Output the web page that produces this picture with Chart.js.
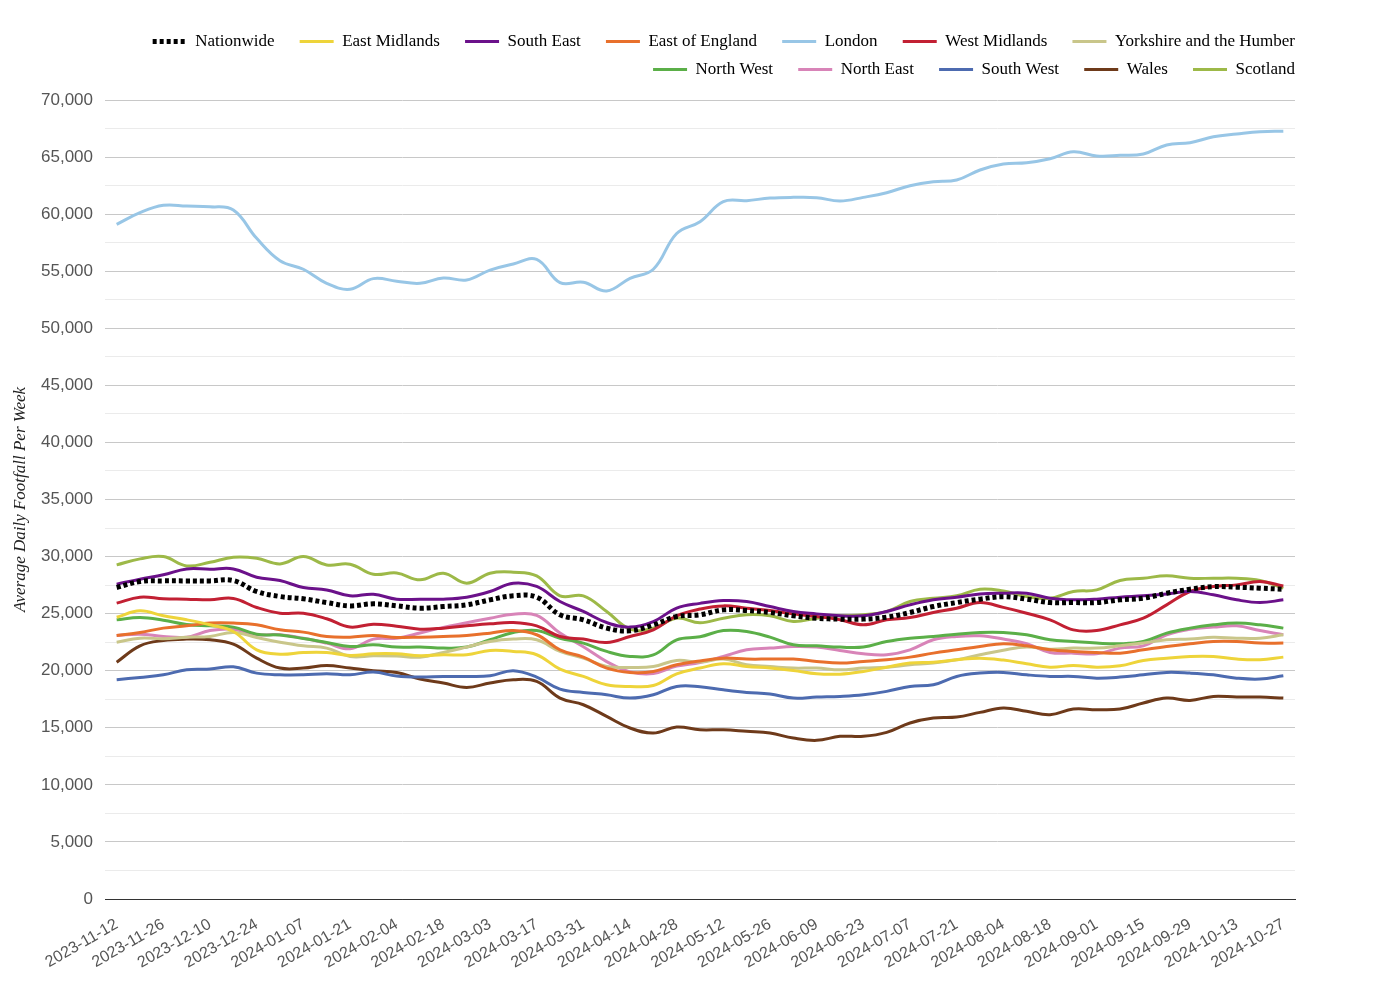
<!DOCTYPE html>
<html><head><meta charset="utf-8">
<script src="https://cdn.jsdelivr.net/npm/chart.js@4.4.1/dist/chart.umd.min.js"></script>
<style>html,body{margin:0;padding:0;background:#fff;}#wrap{width:1400px;height:1000px;}</style>
</head><body><div id="wrap"><canvas id="c" width="1400" height="1000"></canvas></div>
<script>
const weeks = ["2023-11-12","2023-11-19","2023-11-26","2023-12-03","2023-12-10","2023-12-17","2023-12-24","2023-12-31",
"2024-01-07","2024-01-14","2024-01-21","2024-01-28","2024-02-04","2024-02-11","2024-02-18","2024-02-25",
"2024-03-03","2024-03-10","2024-03-17","2024-03-24","2024-03-31","2024-04-07","2024-04-14","2024-04-21",
"2024-04-28","2024-05-05","2024-05-12","2024-05-19","2024-05-26","2024-06-02","2024-06-09","2024-06-16",
"2024-06-23","2024-06-30","2024-07-07","2024-07-14","2024-07-21","2024-07-28","2024-08-04","2024-08-11",
"2024-08-18","2024-08-25","2024-09-01","2024-09-08","2024-09-15","2024-09-22","2024-09-29","2024-10-06",
"2024-10-13","2024-10-20","2024-10-27"];

const nationwide = [27290,27810,27870,27870,27870,27900,26940,26500,26300,25970,
25680,25860,25680,25480,25620,25770,26210,26560,26440,24900,
24460,23730,23500,24020,24750,24900,25330,25270,25100,24810,
24600,24520,24520,24690,25100,25620,25970,26270,26480,26270,
25970,25970,25970,26210,26350,26790,27140,27370,27320,27230,27140];
const eastMidlands = [24690,25250,24810,24460,24020,23440,21830,21450,21600,21600,
21340,21480,21480,21310,21400,21400,21770,21690,21400,20140,
19500,18770,18620,18710,19730,20230,20610,20370,20230,20020,
19730,19700,19940,20310,20670,20750,20960,21100,20930,20610,
20310,20460,20310,20430,20900,21100,21250,21250,21020,20960,21190];
const southEast = [27580,28020,28400,28920,28890,28920,28190,27900,27290,27080,
26560,26700,26270,26270,26270,26440,26940,27670,27380,26060,
25190,24220,23820,24310,25480,25900,26150,26060,25620,25190,
24980,24810,24810,25190,25770,26210,26440,26730,26790,26790,
26350,26210,26270,26440,26560,26730,26940,26650,26210,25970,26210];
const eastOfEngland = [23090,23350,23730,23930,24170,24170,24020,23580,23380,23000,
22940,23090,22920,22940,23000,23090,23290,23520,23150,21830,
21190,20230,19850,19940,20520,20850,21100,21020,21020,21020,
20810,20670,20810,20960,21190,21540,21830,22120,22360,22180,
21830,21690,21600,21540,21830,22120,22360,22560,22560,22420,22420];
const london = [59110,60130,60770,60710,60650,60360,57880,55920,55170,53940,
53420,54350,54120,53940,54410,54230,55100,55630,56040,54000,
54030,53270,54380,55170,58310,59340,61090,61180,61410,61470,
61440,61150,61470,61880,62490,62840,62990,63870,64390,64510,
64860,65470,65100,65150,65270,66060,66260,66780,67020,67220,67260];
const westMidlands = [25920,26440,26300,26270,26210,26330,25540,25040,25040,24550,
23820,24080,23900,23640,23730,23930,24110,24220,23930,23000,
22770,22470,23000,23580,24810,25400,25680,25480,25270,24980,
24750,24460,24020,24460,24660,25100,25480,25970,25550,25040,
24460,23580,23520,24020,24600,25770,26940,27370,27520,27810,27430];
const yorkshire = [22500,22850,22800,22940,23000,23350,22910,22500,22180,21980,
21250,21310,21280,21190,21600,22070,22560,22770,22710,21690,
21100,20370,20290,20370,20900,20760,21020,20520,20370,20230,
20230,20080,20230,20310,20520,20670,20960,21400,21800,22070,
21890,21980,21980,22180,22420,22710,22770,22940,22850,22850,23150];
const northWest = [24460,24660,24430,24050,23930,23820,23200,23120,22820,22470,
22120,22270,22070,22070,21980,22070,22710,23350,23520,22850,
22420,21690,21250,21390,22710,22970,23520,23440,22940,22270,
22180,22070,22070,22560,22850,23000,23200,23350,23350,23150,
22710,22560,22420,22360,22560,23290,23730,24020,24170,24020,23730];
const northEast = [23090,23200,23000,22940,23520,23640,23150,23150,22850,22420,
21920,22770,22850,23300,23800,24200,24600,24950,24850,23300,
22100,20800,19900,19750,20400,20720,21250,21830,21980,22120,
22070,21770,21480,21400,21830,22710,23000,23060,22770,22360,
21600,21540,21480,21980,22180,23150,23640,23820,23930,23520,23150];
const southWest = [19210,19410,19640,20080,20140,20340,19790,19640,19640,19730,
19640,19880,19530,19440,19500,19500,19560,20000,19440,18390,
18100,17890,17600,17890,18620,18600,18330,18100,17950,17600,
17690,17750,17890,18190,18620,18770,19500,19790,19850,19640,
19500,19500,19350,19440,19640,19850,19790,19640,19350,19270,19560];
const wales = [20750,22180,22650,22770,22710,22330,21100,20230,20230,20460,
20230,20000,19850,19270,18920,18540,18920,19210,19060,17600,
17020,16000,14980,14540,15070,14830,14830,14690,14540,14100,
13900,14250,14250,14600,15420,15850,15940,16350,16730,16440,
16140,16640,16580,16640,17170,17600,17400,17750,17690,17690,17600];
const scotland = [29270,29800,30000,29180,29500,29940,29850,29360,30000,29270,
29330,28450,28560,27960,28540,27670,28540,28630,28310,26560,
26560,25190,23640,23730,24600,24200,24600,24900,24810,24310,
24600,24810,24900,25190,26060,26350,26560,27140,26980,26500,
26350,26940,27080,27900,28100,28310,28100,28100,28100,27900,27230];

const seriesNames = ["Nationwide","East Midlands","South East","East of England","London","West Midlands",
"Yorkshire and the Humber","North West","North East","South West","Wales","Scotland"];
const seriesValues = [nationwide,eastMidlands,southEast,eastOfEngland,london,westMidlands,
yorkshire,northWest,northEast,southWest,wales,scotland];
const seriesColors = ["#000000","#EED43A","#6B118A","#E8702C","#98C6E6","#C22033",
"#C9C68A","#5BAF48","#D884B8","#4D6BB0","#6E3A1A","#9DB948"];
const rowEnds = [6, 11];

const datasets = seriesNames.map((name, i) => ({
  label: name,
  data: seriesValues[i],
  borderColor: seriesColors[i],
  backgroundColor: seriesColors[i],
  borderWidth: i === 0 ? 5 : 3,
  borderDash: i === 0 ? [4, 3] : [],
  borderCapStyle: 'butt',
  borderJoinStyle: 'round',
  pointRadius: 0,
  pointHoverRadius: 0,
  tension: 0.4,
  fill: false
}));

const legendFit = {
  id: 'legendFit',
  afterInit(chart) {
    const lg = chart.legend;
    if (!lg || lg._patched) return;
    const orig = lg.fit;
    lg.fit = function () {
      const full = this.maxWidth;
      this.maxWidth = Math.min(full, 1200);
      orig.call(this);
      this.maxWidth = full;
      this.width = full;
      this.height += 12;
    };
    lg._patched = true;
  }
};

new Chart(document.getElementById('c'), {
  type: 'line',
  data: { labels: weeks, datasets },
  plugins: [legendFit],
  options: {
    responsive: false,
    animation: false,
    devicePixelRatio: 1,
    layout: { padding: { top: 22, right: 94, left: 0, bottom: 0 } },
    plugins: {
      tooltip: { enabled: false },
      legend: {
        position: 'top',
        align: 'end',
        labels: {
          usePointStyle: true,
          pointStyleWidth: 34,
          padding: 11,
          color: '#000',
          font: { family: "'Liberation Serif', 'Times New Roman', serif", size: 17 },
          generateLabels(chart) {
            return chart.data.datasets.map((ds, i) => ({
              text: rowEnds.includes(i) ? ds.label : ds.label + '\u2002\u2004',
              fillStyle: ds.borderColor,
              strokeStyle: ds.borderColor,
              lineWidth: ds.borderWidth,
              lineDash: ds.borderDash,
              lineCap: 'butt',
              pointStyle: 'line',
              fontColor: '#000',
              hidden: !chart.isDatasetVisible(i),
              datasetIndex: i
            }));
          }
        }
      }
    },
    scales: {
      x: {
        offset: true,
        grid: { display: true, drawOnChartArea: false, drawTicks: false },
        border: { display: true, color: '#333', width: 1 },
        ticks: {
          autoSkip: false,
          maxRotation: 30,
          minRotation: 30,
          padding: 16,
          color: '#555',
          font: { family: "'Liberation Sans', Arial, sans-serif", size: 16 },
          callback: (v, idx) => (idx % 2 === 0 ? weeks[idx] : '')
        },
        afterFit(scale) { scale.height = 101; scale.paddingRight = 105; }
      },
      y: {
        min: 0,
        max: 70000,
        border: { display: false },
        grid: {
          drawTicks: false,
          color: (ctx) => ctx.tick.value === 0 ? '#333' : (ctx.tick.value % 5000 === 0 ? '#c8c8c8' : '#ebebeb'),
          lineWidth: 1
        },
        ticks: {
          stepSize: 2500,
          padding: 12,
          color: '#555',
          font: { family: "'Liberation Sans', Arial, sans-serif", size: 17 },
          callback: (v) => (v % 5000 === 0 ? v.toLocaleString('en-US') : '')
        },
        title: {
          display: true,
          text: 'Average Daily Footfall Per Week',
          color: '#222',
          padding: { top: 10, bottom: 0 },
          font: { family: "'Liberation Serif', 'Times New Roman', serif", size: 17, style: 'italic' }
        },
        afterFit(scale) { scale.width = 105; }
      }
    }
  }
});
</script></body></html>
